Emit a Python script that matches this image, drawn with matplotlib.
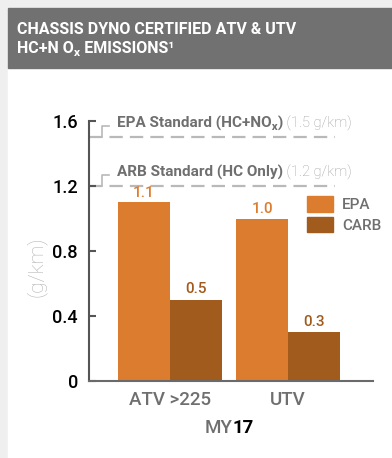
import numpy as np
import matplotlib
matplotlib.use('Agg')
import matplotlib.pyplot as plt
import matplotlib.transforms as mtransforms
from matplotlib.patches import Rectangle, Patch

plt.rcParams['font.family'] = ['Roboto', 'DejaVu Sans']

# data
categories = ['ATV >225', 'UTV']
epa = [1.1, 1.0]
carb = [0.5, 0.3]
series_names = ['EPA', 'CARB']
standards = [1.5, 1.2]
standard_names = ['EPA Standard (HC+NOₓ)', 'ARB Standard (HC Only)']
standard_units = ['(1.5 g/km)', '(1.2 g/km)']
yticks = [0, 0.4, 0.8, 1.2, 1.6]
ytick_labels = ['0', '0.4', '0.8', '1.2', '1.6']

EPA_COLOR = '#dc7c2e'
CARB_COLOR = '#a15b1d'
GRAY_TEXT = '#6f6f6f'
DASH_GRAY = '#b9b9b9'

W, H = 392, 458
fig = plt.figure(figsize=(W / 100, H / 100), dpi=100, facecolor='#efefef')

# white card and dark header band
fig.patches.append(Rectangle((8 / W, 0), 1, 1 - 8 / H, transform=fig.transFigure,
                             color='white', zorder=-2))
fig.patches.append(Rectangle((8 / W, 1 - 68 / H), 1, 60 / H, transform=fig.transFigure,
                             color='#717171', zorder=-1))
fig.text(17 / W, 1 - 30 / H, 'CHASSIS DYNO CERTIFIED ATV & UTV', color='white',
         fontsize=11.5, weight='bold', va='center')
fig.text(17 / W, 1 - 49 / H, 'HC+N Oₓ EMISSIONS¹', color='white',
         fontsize=11.5, weight='bold', va='center')

ax = fig.add_axes([89 / W, 77 / H, 284 / W, 260 / H])
ax.set_facecolor('none')

x = np.arange(len(categories))
w = 0.44
ax.bar(x - w / 2, epa, w, color=EPA_COLOR, zorder=2)
ax.bar(x + w / 2, carb, w, color=CARB_COLOR, zorder=2)

for xi, v in zip(x - w / 2, epa):
    ax.annotate(f'{v:.1f}', (xi, v), xytext=(0, 1.5), textcoords='offset points',
                ha='center', va='bottom', color=EPA_COLOR, fontsize=11,
                weight='medium')
for xi, v in zip(x + w / 2, carb):
    ax.annotate(f'{v:.1f}', (xi, v), xytext=(0, 2.5), textcoords='offset points',
                ha='center', va='bottom', color=CARB_COLOR, fontsize=11,
                weight='medium')

ax.set_xlim(-0.686, 1.72)
ax.set_ylim(0, 1.6)
ax.set_yticks(yticks)
ax.set_yticklabels(ytick_labels, weight='medium')
ax.set_xticks(x)
ax.set_xticklabels(categories, weight='medium')

for side in ['top', 'right']:
    ax.spines[side].set_visible(False)
ax.spines['left'].set_color('#555555')
ax.spines['left'].set_linewidth(1.5)
ax.spines['bottom'].set_color('#6a6a6a')
ax.spines['bottom'].set_linewidth(1.5)

ax.tick_params(axis='y', direction='in', length=5, width=1.5, color='#555555',
               labelsize=13, pad=8, labelcolor='black')
ax.tick_params(axis='x', length=0, labelsize=13.5, pad=7, labelcolor=GRAY_TEXT)

# standard limits: dashed line, small bracket and label
trans = mtransforms.blended_transform_factory(ax.transAxes, ax.transData)
for s, name, unit in zip(standards, standard_names, standard_units):
    ax.plot([0, 0.866], [s, s], transform=trans, color=DASH_GRAY, lw=1.6,
            dashes=(6.0, 3.2), clip_on=False, zorder=1)
    ax.plot([0.046, 0.046, 0.072], [s, s + 0.068, s + 0.068], transform=trans,
            color=DASH_GRAY, lw=1.2, clip_on=False, zorder=1)
    t = ax.text(0.099, s + 0.085, name, transform=trans, fontsize=11,
                weight='bold', color=GRAY_TEXT, va='center')
    ax.annotate(' ' + unit, xy=(1, 0.5), xycoords=t, va='center', ha='left',
                color='#9e9e9e', fontsize=10.5, weight='light')

handles = [Patch(color=EPA_COLOR), Patch(color=CARB_COLOR)]
ax.legend(handles, series_names, loc='upper left',
          bbox_to_anchor=(307 / W, 1 - 196 / H), bbox_transform=fig.transFigure,
          frameon=False, borderpad=0, borderaxespad=0, handlelength=1.7,
          handleheight=1.2, handletextpad=0.6, labelspacing=0.3,
          prop=dict(size=11, weight='medium'), labelcolor=GRAY_TEXT)

fig.text(36 / W, 1 - 267 / H, '(g/km)', rotation=90, ha='center', va='center',
         color='#b3b3b3', fontsize=15, weight='light')

fig.text(233 / W, 1 - 428 / H, 'MY', ha='right', va='center', color=GRAY_TEXT,
         fontsize=13.5, weight='medium')
fig.text(233 / W, 1 - 428 / H, '17', ha='left', va='center', color='black',
         fontsize=13.5, weight='bold')

fig.savefig('out.png', dpi=100, facecolor=fig.get_facecolor())
